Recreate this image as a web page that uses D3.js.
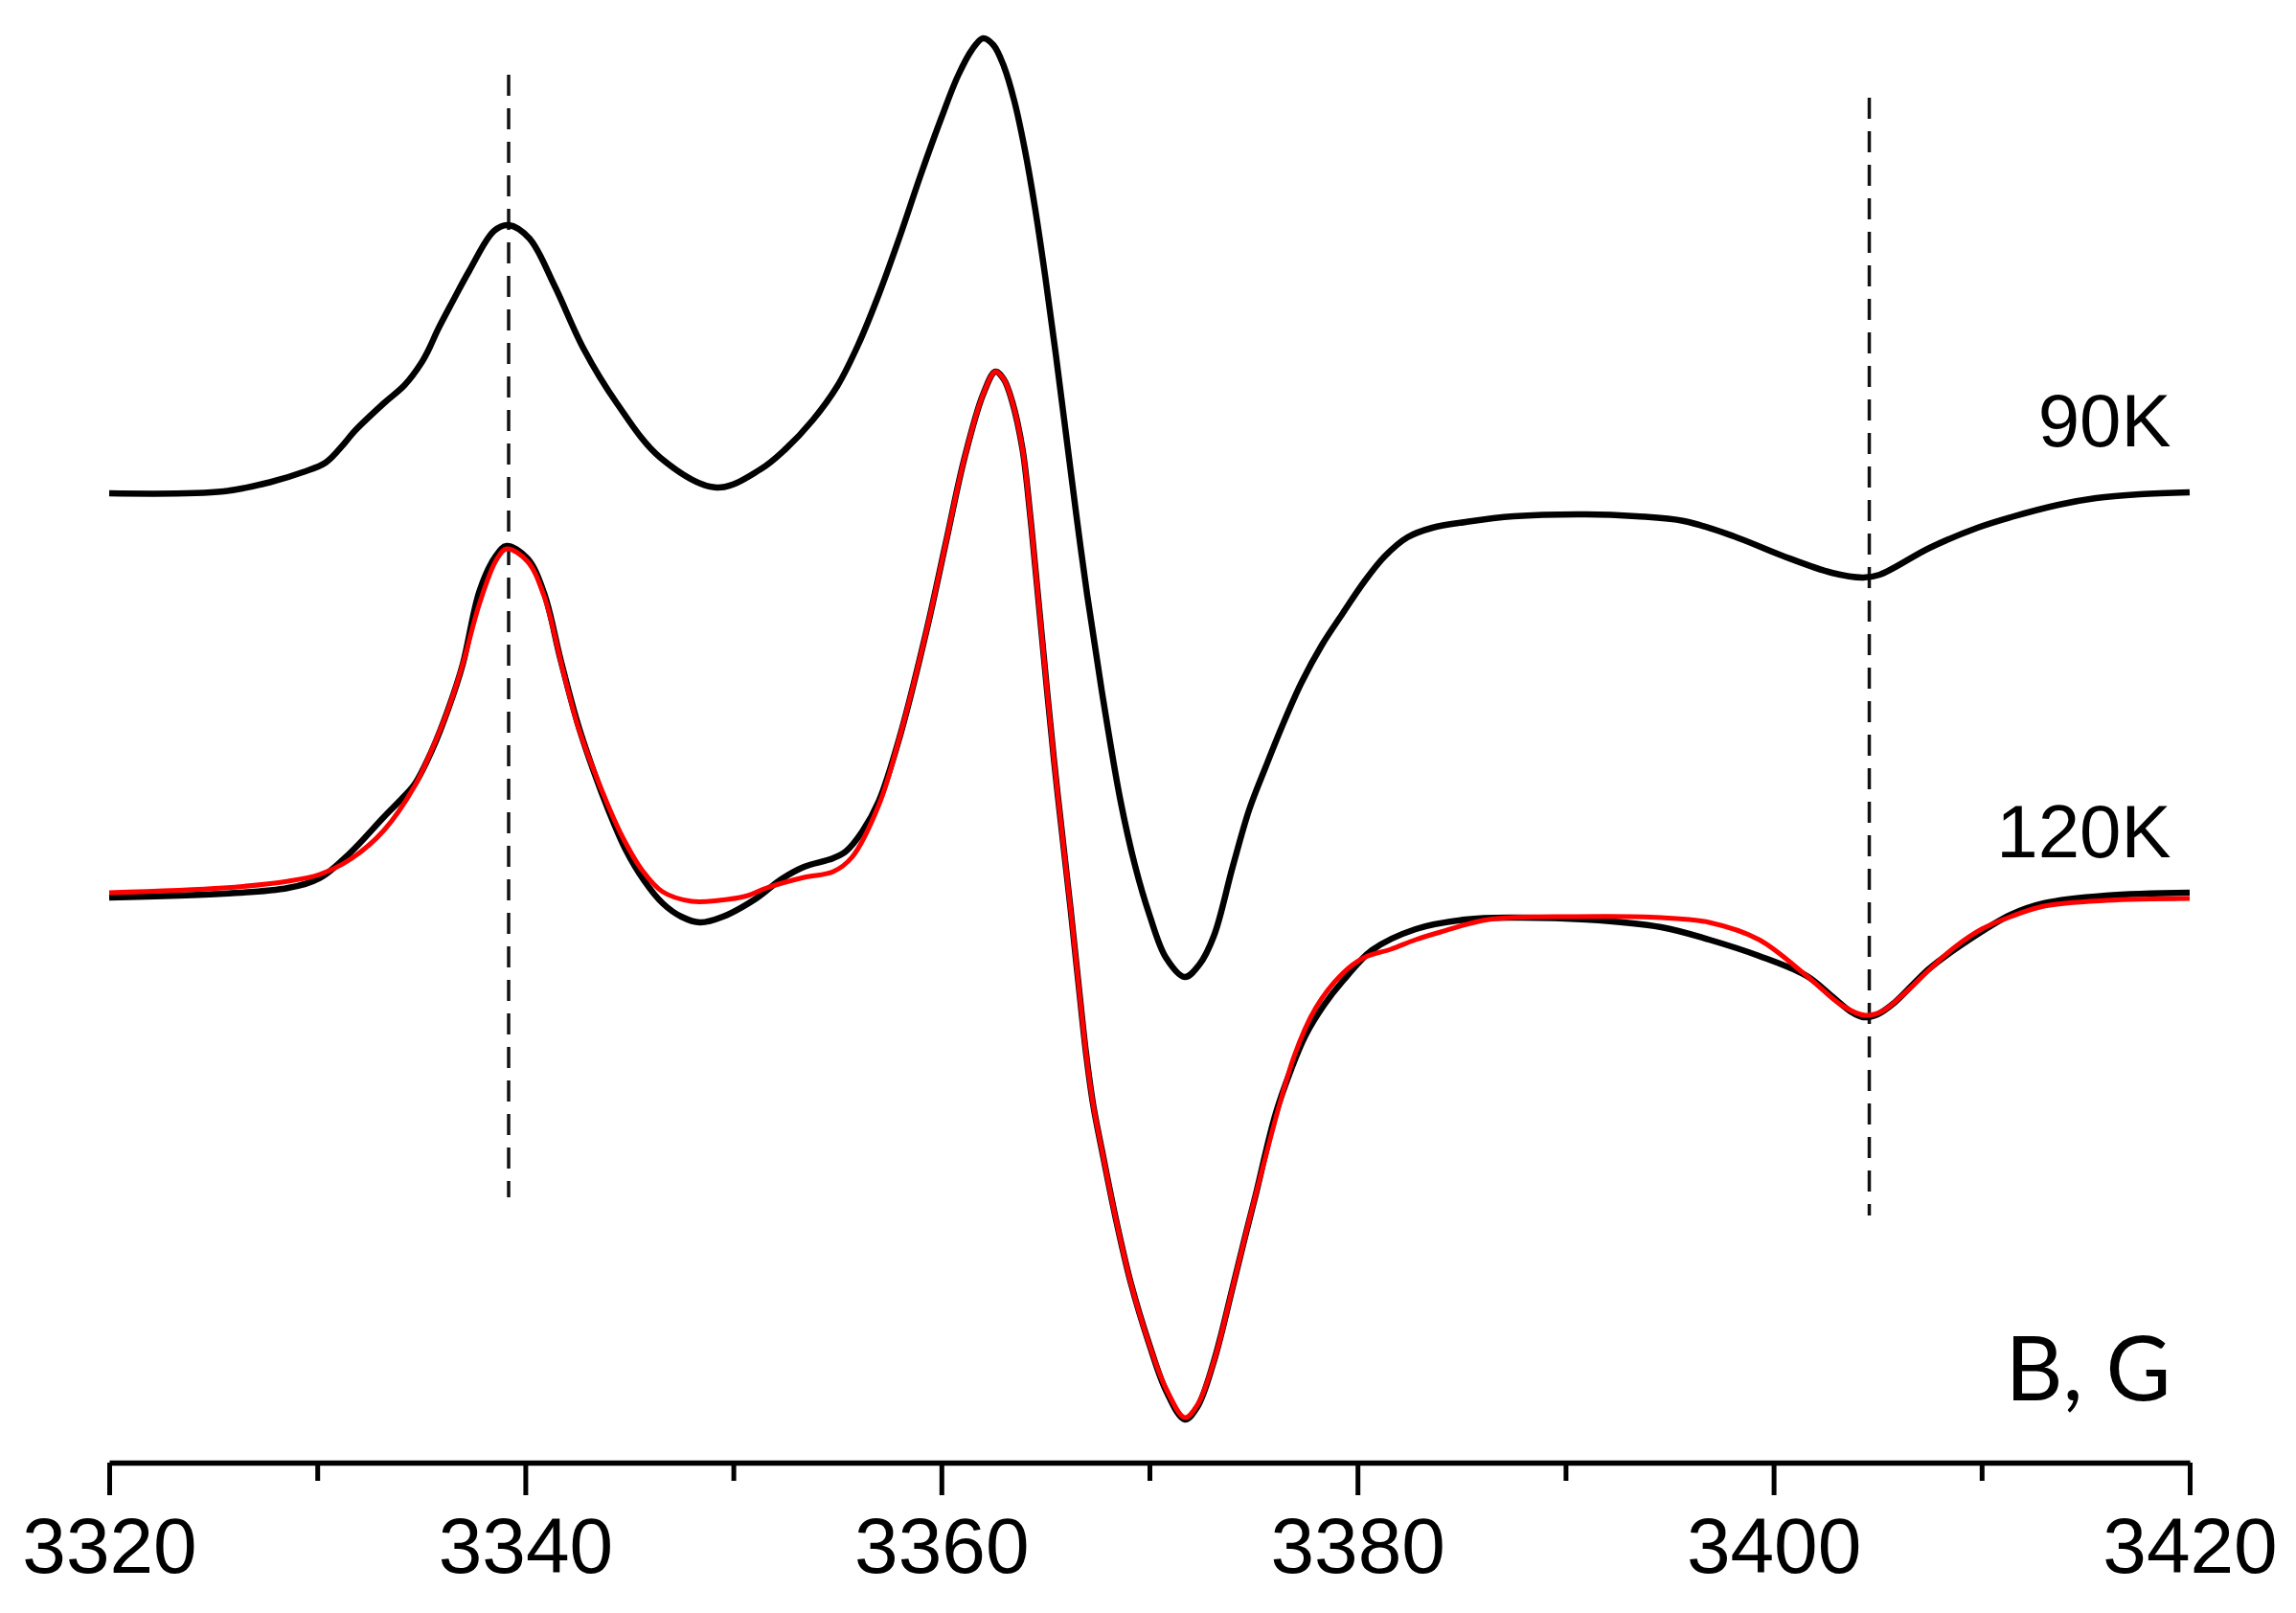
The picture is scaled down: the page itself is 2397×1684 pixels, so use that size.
<!DOCTYPE html>
<html>
<head>
<meta charset="utf-8">
<script src="https://cdnjs.cloudflare.com/ajax/libs/d3/7.8.5/d3.min.js"></script>
<style>
  body { margin: 0; background: #fff; }
</style>
</head>
<body>
<div id="chart"></div>
<script>
// magnetic field, G
var field90 = [3320.0, 3325.5, 3327.8, 3329.3, 3330.4, 3331.3, 3331.8, 3333.2, 3334.2, 3335.0,
  3335.4, 3335.8, 3336.5, 3337.3, 3338.5, 3339.2, 3340.2, 3341.4, 3342.8, 3344.4,
  3346.5, 3349.2, 3351.3, 3352.5, 3353.8, 3355.0, 3356.0, 3357.0, 3358.0, 3359.0,
  3360.0, 3360.8, 3361.5, 3362.0, 3362.5, 3363.0, 3363.5, 3364.0, 3364.5, 3365.0,
  3365.5, 3366.0, 3366.5, 3367.0, 3367.7, 3368.6, 3369.3, 3370.0, 3370.8, 3371.7,
  3372.4, 3373.1, 3374.0, 3374.8, 3375.6, 3376.4, 3377.3, 3378.3, 3379.3, 3380.3,
  3381.3, 3382.4, 3383.6, 3385.2, 3387.5, 3391.0, 3393.4, 3395.7, 3398.1, 3400.4,
  3402.8, 3404.3, 3405.1, 3407.5, 3409.8, 3411.4, 3413.7, 3415.5, 3417.6, 3420.0];
// 90K signal, a.u. (relative to its own baseline)
var signal90 = [0.0, 0.2, 1.2, 2.2, 3.2, 5.2, 6.5, 9.4, 11.3, 13.6,
  15.2, 17.1, 20.0, 23.2, 27.4, 28.0, 26.6, 21.7, 15.1, 9.4,
  3.7, 0.6, 2.5, 4.6, 7.6, 11.2, 15.5, 20.8, 26.8, 33.2,
  39.2, 43.6, 46.4, 47.5, 46.8, 44.6, 41.0, 36.0, 29.8, 22.5,
  14.5, 6.0, -2.5, -10.5, -20.5, -32.0, -38.8, -44.0, -48.5, -50.5,
  -49.2, -46.2, -39.0, -33.0, -28.5, -24.2, -19.8, -15.8, -12.5, -9.3,
  -6.6, -4.6, -3.6, -3.0, -2.4, -2.2, -2.4, -2.9, -4.5, -6.5,
  -8.3, -8.8, -8.5, -5.7, -3.6, -2.5, -1.2, -0.5, -0.1, 0.1];

var field120 = [3320.0, 3325.5, 3328.6, 3330.1, 3331.6, 3333.2, 3334.1, 3334.7, 3335.5, 3336.3,
  3337.0, 3337.8, 3338.6, 3339.1, 3340.1, 3340.9, 3341.7, 3342.5, 3343.3, 3344.0,
  3344.8, 3345.7, 3346.6, 3347.5, 3348.4, 3349.5, 3351.1, 3352.3, 3353.4, 3354.8,
  3355.4, 3356.2, 3357.0, 3358.0, 3359.3, 3360.2, 3361.1, 3362.0, 3362.6, 3363.0,
  3363.4, 3363.9, 3364.25, 3364.6, 3365.4, 3366.2, 3366.6, 3366.95, 3367.3, 3367.7,
  3368.4, 3369.1, 3370.0, 3370.8, 3371.7, 3372.3, 3373.1, 3374.0, 3374.6, 3375.1,
  3376.05, 3376.8, 3377.5, 3378.4, 3379.3, 3380.7, 3382.8, 3385.2, 3387.5, 3391.0,
  3394.6, 3396.9, 3399.3, 3401.6, 3402.8, 3403.7, 3404.3, 3405.0, 3405.8, 3407.5,
  3409.4, 3411.4, 3413.0, 3416.0, 3420.0];
var signal120 = [-0.3, 0.1, 0.7, 1.7, 4.4, 8.1, 10.1, 11.6, 15.0, 19.4,
  24.1, 31.7, 35.4, 36.4, 35.1, 31.5, 24.5, 18.0, 12.8, 8.8,
  4.8, 1.5, -0.9, -2.3, -2.9, -2.3, -0.4, 1.6, 2.9, 3.8,
  4.5, 6.6, 9.8, 16.5, 27.7, 36.6, 45.5, 52.2, 54.6, 53.8,
  51.5, 46.5, 40.0, 32.2, 14.3, -1.3, -9.5, -16.5, -22.0, -26.5,
  -34.0, -40.5, -47.0, -51.8, -54.8, -53.5, -48.7, -41.0, -35.7, -31.4,
  -23.0, -18.3, -14.7, -11.5, -9.0, -5.8, -3.6, -2.6, -2.4, -2.6,
  -3.4, -4.7, -6.4, -8.5, -10.6, -12.2, -12.8, -12.5, -11.3, -7.7,
  -4.7, -2.1, -0.9, -0.1, 0.2];

// simulated spectrum (red)
var fieldFit = [3320.0, 3325.5, 3328.6, 3330.1, 3331.6, 3333.2, 3334.7, 3335.5, 3336.3, 3337.0,
  3337.8, 3338.6, 3339.1, 3340.1, 3340.9, 3341.8, 3342.5, 3343.2, 3344.0, 3344.7,
  3345.6, 3346.6, 3348.0, 3349.3, 3350.7, 3351.6, 3353.4, 3354.8, 3355.7, 3357.0,
  3358.0, 3359.3, 3360.2, 3361.1, 3362.0, 3362.6, 3363.0, 3363.4, 3363.9, 3364.25,
  3364.6, 3365.4, 3366.2, 3366.6, 3366.95, 3367.3, 3367.7, 3368.4, 3369.1, 3370.0,
  3370.8, 3371.7, 3372.3, 3373.1, 3374.0, 3374.6, 3375.1, 3376.95, 3378.0, 3379.3,
  3380.3, 3381.6, 3382.8, 3384.0, 3386.3, 3390.5, 3394.6, 3396.9, 3399.3, 3401.6,
  3403.3, 3404.4, 3405.2, 3406.3, 3407.5, 3408.7, 3410.0, 3411.4, 3413.0, 3416.0,
  3420.0];
var signalFit = [0.2, 0.7, 1.4, 2.1, 3.7, 6.7, 11.4, 15.1, 19.4, 24.1,
  30.4, 34.9, 36.1, 34.8, 31.2, 23.5, 17.8, 13.5, 9.2, 5.9,
  2.6, 0.3, -0.7, -0.6, -0.1, 0.7, 1.8, 2.4, 3.9, 9.4,
  16.5, 27.7, 36.6, 45.5, 52.2, 54.6, 53.8, 51.5, 46.5, 40.0,
  32.2, 14.3, -1.3, -9.5, -16.5, -22.0, -26.5, -34.0, -40.5, -47.0,
  -51.6, -54.6, -53.3, -48.7, -41.0, -35.7, -31.4, -16.9, -11.8, -8.2,
  -6.6, -5.7, -4.7, -3.9, -2.6, -2.3, -2.4, -2.9, -4.7, -8.5,
  -11.6, -12.6, -12.2, -10.3, -7.8, -5.5, -3.6, -2.3, -1.2, -0.6,
  -0.4];

var offset90 = 41.9;
var offset120 = 0;

var majorTicks = [3320, 3340, 3360, 3380, 3400, 3420];
var minorTicks = [3330, 3350, 3370, 3390, 3410];

// dashed guide lines
var guideField = [3339.2, 3404.6];
var guideTop = [85.6, 83.2];
var guideBottom = [-31.6, -33.5];

var curveLabels = ["90K", "120K"];
var curveLabelY = [46.8, 3.9];
var axisTitle = "B, G";

function init() {

  var w = 2397;
  var h = 1684;

  var x = d3.scaleLinear().domain([3320, 3420]).range([114, 2286]);
  var y = d3.scaleLinear().domain([-60, 90]).range([1534, 34]);
  var axisY = 1527;

  var svg = d3.select("#chart")
              .append("svg")
              .attr("width", w)
              .attr("height", h)
              .style("background", "#fff");

  // dashed guides
  svg.selectAll("line.guide")
     .data(guideField)
     .enter()
     .append("line")
     .attr("class", "guide")
     .attr("x1", function(d) { return x(d); })
     .attr("x2", function(d) { return x(d); })
     .attr("y1", function(d, i) { return y(guideTop[i]); })
     .attr("y2", function(d, i) { return y(guideBottom[i]); })
     .attr("stroke", "#111")
     .attr("stroke-width", 3.5)
     .attr("stroke-dasharray", "22,13");

  var line = d3.line()
               .x(function(d) { return x(d[0]); })
               .y(function(d) { return y(d[1]); })
               .curve(d3.curveCatmullRom.alpha(0.5));

  function pts(f, s, off) {
    return f.map(function(v, i) { return [v, s[i] + off]; });
  }

  var series = [
    { p: pts(field90, signal90, offset90), c: "#000", sw: 6.5 },
    { p: pts(field120, signal120, offset120), c: "#000", sw: 6.5 },
    { p: pts(fieldFit, signalFit, offset120), c: "#ff0000", sw: 5 }
  ];

  svg.selectAll("path.spec")
     .data(series)
     .enter()
     .append("path")
     .attr("class", "spec")
     .attr("fill", "none")
     .attr("stroke", function(d) { return d.c; })
     .attr("stroke-width", function(d) { return d.sw; })
     .attr("stroke-linejoin", "round")
     .attr("d", function(d) { return line(d.p); });

  // axis
  var minorAxis = d3.axisBottom(x).tickValues(minorTicks).tickSize(19).tickFormat("");
  var gMinor = svg.append("g")
                  .attr("transform", "translate(0," + axisY + ")")
                  .call(minorAxis);
  gMinor.select(".domain").remove();
  gMinor.selectAll("line").attr("stroke", "#000").attr("stroke-width", 5);

  var xAxis = d3.axisBottom(x)
                .tickValues(majorTicks)
                .tickSize(34)
                .tickSizeOuter(0)
                .tickPadding(23)
                .tickFormat(d3.format("d"));
  var gAxis = svg.append("g")
                 .attr("transform", "translate(0," + axisY + ")")
                 .call(xAxis);
  gAxis.select(".domain").attr("stroke", "#000").attr("stroke-width", 5.5);
  gAxis.selectAll("line").attr("stroke", "#000").attr("stroke-width", 5);
  gAxis.selectAll("text")
       .attr("fill", "#000")
       .style("font-family", "'Liberation Sans', Arial, sans-serif")
       .style("font-size", "82px");

  // labels
  svg.selectAll("text.curve-label")
     .data(curveLabels)
     .enter()
     .append("text")
     .attr("class", "curve-label")
     .attr("x", x(3419.1))
     .attr("y", function(d, i) { return y(curveLabelY[i]); })
     .attr("text-anchor", "end")
     .style("font-family", "'Liberation Sans', Arial, sans-serif")
     .style("font-size", "78px")
     .text(function(d) { return d; });

  svg.append("text")
     .attr("x", x(3419.1))
     .attr("y", y(-52.8))
     .attr("text-anchor", "end")
     .style("font-family", "Lato, 'Open Sans', sans-serif")
     .style("font-size", "93px")
     .text(axisTitle);

}

window.onload = init;
</script>
</body>
</html>
